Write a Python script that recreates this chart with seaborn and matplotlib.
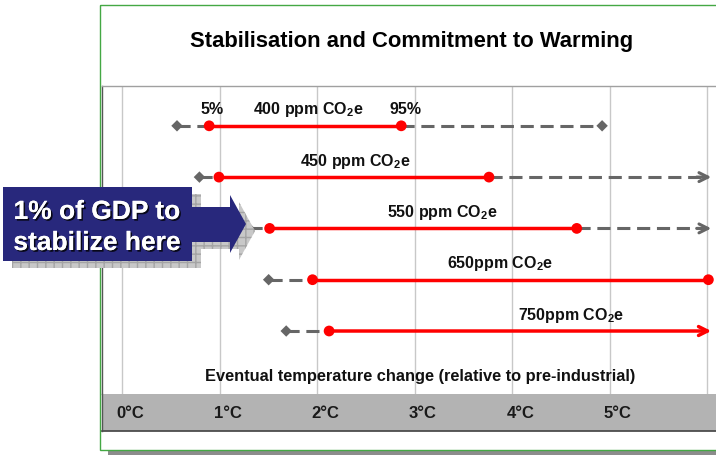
import matplotlib
matplotlib.use("Agg")
import matplotlib.pyplot as plt
import matplotlib.transforms as mtransforms
import matplotlib.patheffects as pe
from matplotlib.patches import Rectangle, Polygon
import seaborn as sns
import pandas as pd

# ---------------- data ----------------
scenarios = ["400 ppm CO$_\\mathbf{2}$e", "450 ppm CO$_\\mathbf{2}$e", "550 ppm CO$_\\mathbf{2}$e",
             "650ppm CO$_\\mathbf{2}$e", "750ppm CO$_\\mathbf{2}$e"]
low_tail = [0.56, 0.79, 1.30, 1.50, 1.68]        # grey diamond (lower end)
p5 = [0.89, 0.99, 1.51, 1.95, 2.12]              # red dot, 5%
p95 = [2.86, 3.76, 4.66, 6.01, 6.04]             # red dot, 95%
p95_open = [False, False, False, False, True]    # red range continues (arrow)
high_tail = [4.92, 6.04, 6.04, None, None]       # grey upper end
high_open = [False, True, True, False, False]    # grey continues (arrow)
tick_vals = [0, 1, 2, 3, 4, 5, 6]
tick_labels = ["0°C", "1°C", "2°C", "3°C", "4°C", "5°C", ""]

# ---------------- layout ----------------
label_x = [1.91, 2.39, 3.28, 3.87, 4.60]

sns.set_theme(style="white")
plt.rcParams["font.family"] = ["Liberation Sans", "DejaVu Sans"]
plt.rcParams["mathtext.fontset"] = "custom"
plt.rcParams["mathtext.rm"] = "Liberation Sans"
plt.rcParams["mathtext.bf"] = "Liberation Sans:bold"

W, H = 716, 455
fig = plt.figure(figsize=(W / 100, H / 100), dpi=100)
fig.patch.set_facecolor("white")
px = mtransforms.Affine2D().scale(1 / W, -1 / H).translate(0, 1) + fig.transFigure


def fr(x0, y_top, x1, y_bot):
    return [x0 / W, 1 - y_bot / H, (x1 - x0) / W, (y_bot - y_top) / H]


ax = fig.add_axes(fr(102.3, 86, 720, 394))
band = fig.add_axes(fr(102.3, 394, 720, 430.5), sharex=ax)

xmin = (102.3 - 122.4) / 97.5
xmax = (720 - 122.4) / 97.5
ax.set_xlim(xmin, xmax)
ax.set_ylim(5.228, -0.776)

# grid lines
for t in tick_vals:
    ax.axvline(t, color="#C8C8C8", lw=1.0, zorder=0)

grey = "#666666"
red = "#FF0000"
rows = list(range(len(scenarios)))

# grey dashed tails
for i in rows:
    ax.plot([low_tail[i], p5[i]], [i, i], color=grey, lw=2.2, dashes=(4.3, 2.2), zorder=2,
            solid_capstyle="butt", dash_capstyle="butt")
    if high_tail[i] is not None:
        ax.plot([p95[i], high_tail[i] - (0.05 if high_open[i] else 0)], [i, i], color=grey, lw=2.2,
                dashes=(4.3, 2.2), zorder=2, dash_capstyle="butt")
        if high_open[i]:
            ax.annotate("", xy=(high_tail[i], i), xytext=(high_tail[i] - 0.15, i),
                        arrowprops=dict(arrowstyle="->", color=grey, lw=2.2, mutation_scale=16,
                                        shrinkA=0, shrinkB=0), zorder=3)

# red ranges
for i in rows:
    if p95_open[i]:
        ax.annotate("", xy=(p95[i], i), xytext=(p5[i], i),
                    arrowprops=dict(arrowstyle="->", color=red, lw=2.5, mutation_scale=16,
                                    shrinkA=0, shrinkB=0), zorder=3)
    else:
        ax.plot([p5[i], p95[i]], [i, i], color=red, lw=2.5, zorder=3, solid_capstyle="butt")

# markers via seaborn
dia = pd.DataFrame({"x": low_tail + [high_tail[i] for i in rows if high_tail[i] is not None and not high_open[i]],
                    "y": rows + [i for i in rows if high_tail[i] is not None and not high_open[i]]})
sns.scatterplot(data=dia, x="x", y="y", marker="D", s=34, color=grey, edgecolor="none", ax=ax, zorder=4)
dots = pd.DataFrame({"x": p5 + [p95[i] for i in rows if not p95_open[i]],
                     "y": rows + [i for i in rows if not p95_open[i]]})
sns.scatterplot(data=dots, x="x", y="y", s=60, color=red, edgecolor="none", ax=ax, zorder=5)
ax.set_xlim(xmin, xmax)
ax.set_ylim(5.228, -0.776)
ax.set_xlabel("")
ax.set_ylabel("")
ax.set_xticks([])
ax.set_yticks([])

# labels
lab_kw = dict(textcoords="offset points", ha="center", va="center", fontsize=11.5,
              fontweight="bold", color="#111111")
for i in rows:
    ax.annotate(scenarios[i], xy=(label_x[i], i), xytext=(0, 11.5), **lab_kw)
ax.annotate("5%", xy=(p5[0], 0), xytext=(2, 11.5), **lab_kw)
ax.annotate("95%", xy=(p95[0], 0), xytext=(3, 11.5), **lab_kw)

for s in ["right", "bottom"]:
    ax.spines[s].set_visible(False)
ax.spines["top"].set_color("#A0A0A0")
ax.spines["top"].set_linewidth(1.0)
ax.spines["left"].set_color("#555555")
ax.spines["left"].set_linewidth(1.0)

# bottom band
band.set_facecolor("#B3B3B3")
band.set_xticks([])
band.set_yticks([])
band.set_ylim(0, 1)
for s in ["right", "top"]:
    band.spines[s].set_visible(False)
band.spines["bottom"].set_color("#4D4D4D")
band.spines["bottom"].set_linewidth(1.3)
band.spines["left"].set_color("#555555")
band.spines["left"].set_linewidth(1.0)
btrans = mtransforms.blended_transform_factory(band.transData, band.transAxes)
for t, lab in zip(tick_vals, tick_labels):
    band.text(t + 0.08, 0.47, lab, transform=btrans, ha="center", va="center",
              fontsize=12, fontweight="bold", color="#1A1A1A")

# titles
fig.text(412, 42, "Stabilisation and Commitment to Warming", transform=px, ha="center", va="center",
         fontsize=15.8, fontweight="bold", color="#000000")
fig.text(420, 377, "Eventual temperature change (relative to pre-industrial)", transform=px,
         ha="center", va="center", fontsize=11.8, fontweight="bold", color="#111111")

# outer frame + shadow
fig.patches.append(Rectangle((108, 450), 700, 6, transform=px, facecolor="#8C8C8C", edgecolor="none", zorder=1))
fig.patches.append(Rectangle((100, 5), 700, 444.5, transform=px, fill=False, edgecolor="#44A844", lw=1.0, zorder=1))

# callout arrow
shape = [(3, 187), (192, 187), (192, 207), (230, 207), (230, 195), (246, 224), (230, 253),
         (230, 242), (192, 242), (192, 261), (3, 261)]
shadow = [(x + 9, y + 7) for x, y in shape]
fig.patches.append(Polygon(shadow, closed=True, transform=px, facecolor="#C8C8C8",
                           edgecolor="#A4A4A4", hatch="++", lw=0, zorder=6))
fig.patches.append(Polygon(shape, closed=True, transform=px, facecolor="#28287C",
                           edgecolor="none", zorder=7))
shadow_fx = [pe.withSimplePatchShadow(offset=(1.2, -1.2), shadow_rgbFace="black", alpha=0.8), pe.Normal()]
fig.text(97, 212, "1% of GDP to", transform=px, ha="center", va="center", fontsize=19,
         fontweight="bold", color="white", zorder=8, path_effects=shadow_fx)
fig.text(97, 243, "stabilize here", transform=px, ha="center", va="center", fontsize=19,
         fontweight="bold", color="white", zorder=8, path_effects=shadow_fx)

fig.savefig("out.png", dpi=100)
